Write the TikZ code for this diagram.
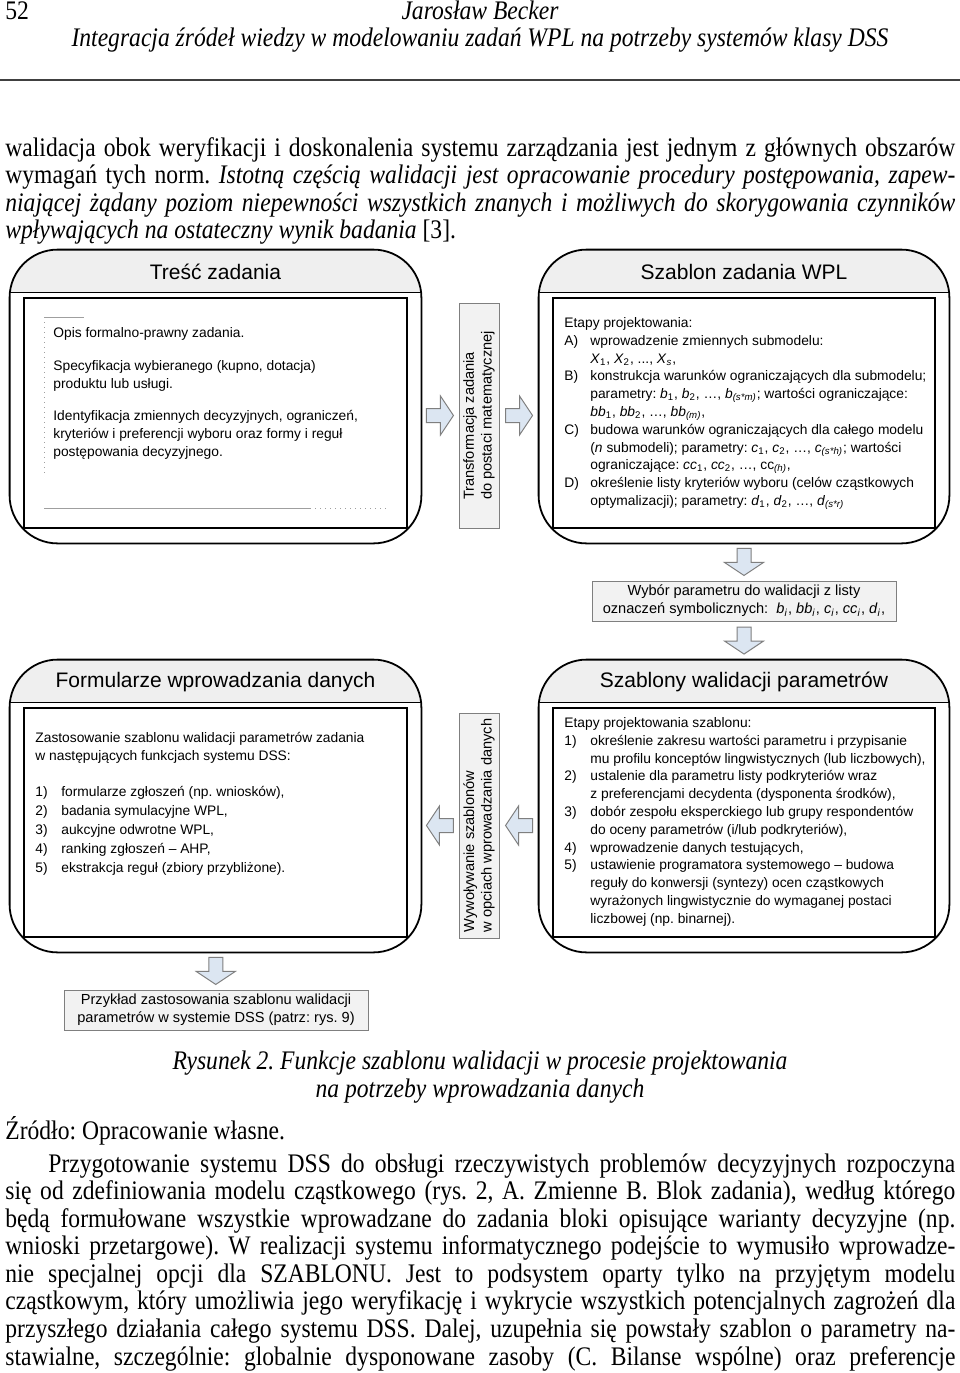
\documentclass[tikz,border=0pt]{standalone}
\usepackage{fontspec}
\setmainfont{Liberation Serif}[FakeStretch=0.88]
\setsansfont{Liberation Sans}
\usetikzlibrary{calc}
\frenchspacing

\definecolor{bandgray}{HTML}{EFEFEF}
\definecolor{boxgray}{HTML}{F2F2F2}
\definecolor{boxline}{HTML}{7F7F7F}
\definecolor{arrowblue}{HTML}{DCE6F2}

\newcommand{\parsym}[2]{\textit{#1}\textsubscript{#2}}
\newcommand{\itm}[1]{\makebox[13pt][l]{#1}}
\newcommand{\cnt}{\hspace*{13pt}}
\newcommand{\fullline}[1]{\makebox[475pt][s]{#1}}

\begin{document}
\begin{tikzpicture}[x=0.5pt,y=-0.5pt,
  panel/.style={minimum width=205.5pt,minimum height=146.5pt,inner sep=0pt},
  paneltitle/.style={font=\sffamily\fontsize{10.5}{12}\selectfont,inner sep=0pt},
  panelbody/.style={font=\sffamily\fontsize{6.9}{8.9}\selectfont,align=left,anchor=north west,inner sep=0pt},
  sidebox/.style={draw=boxline,fill=boxgray,line width=0.5pt,rotate=90,minimum width=112.5pt,
    minimum height=20pt,align=left,inner sep=0pt,font=\sffamily\fontsize{7.3}{8.8}\selectfont},
  notebox/.style={draw=boxline,fill=boxgray,line width=0.5pt,minimum width=152pt,minimum height=20pt,
    align=center,inner sep=0pt,font=\sffamily\fontsize{7.3}{9}\selectfont},
  bodyline/.style={anchor=base west,inner sep=0pt,font=\fontsize{13.4}{13.8}\selectfont},
  decor/.style={gray!75,line width=0.5pt},
  blockarrow/.pic={\draw[fill=arrowblue,draw=boxline,line width=0.5pt]
    (-13.5,-7) -- (0.5,-7) -- (0.5,-19.5) -- (13.5,0) -- (0.5,19.5) -- (0.5,7) -- (-13.5,7) -- cycle;}]
\fill[white] (0,0) rectangle (960,1373);
\useasboundingbox (0,0) rectangle (960,1373);

% page head
\node[bodyline] (nr) at (5,19.5) {52};
\node[bodyline,anchor=base] (autor) at (480,19.5) {\itshape Jarosław Becker};
\node[bodyline,anchor=base] (tytul) at (480,46) {\itshape Integracja źródeł wiedzy w modelowaniu zadań WPL na potrzeby systemów klasy DSS};
\draw[black!75,line width=0.6pt] (0,80) -- (960,80);

% text above the figure
\foreach \txt [count=\i] in {
  {\fullline{walidacja obok weryfikacji i doskonalenia systemu zarządzania jest jednym z głównych obszarów}},
  {\fullline{wymagań tych norm. \itshape Istotną częścią walidacji jest opracowanie procedury postępowania, zapew-}},
  {\fullline{\itshape niającej żądany poziom niepewności wszystkich znanych i możliwych do skorygowania czynników}},
  {{\itshape wpływających na ostateczny wynik badania} [3].}}
  \node[bodyline] (wstep\i) at (5,156+27.6*\i-27.6) {\txt};

% panels
\node[panel] (tresc) at (215.5,396.5) {};
\node[panel,minimum width=205pt] (szablon) at (744,396.5) {};
\node[panel,minimum height=146pt] (formularze) at (215.5,806) {};
\node[panel,minimum width=205pt,minimum height=146pt] (szablony) at (744,806) {};
\foreach \p in {tresc,szablon,formularze,szablony}{
  \begin{scope}
    \clip[rounded corners=24pt] (\p.south west) rectangle (\p.north east);
    \fill[bandgray] (\p.north west) rectangle ([yshift=-21.5pt]\p.north east);
  \end{scope}
  \draw[line width=0.7pt] ([yshift=-21.5pt]\p.north west) -- ([yshift=-21.5pt]\p.north east);
  \draw[line width=1pt] ([xshift=7pt,yshift=-24pt]\p.north west) rectangle ([xshift=-7pt,yshift=7.5pt]\p.south east);
  \draw[line width=0.9pt,rounded corners=24pt] (\p.south west) rectangle (\p.north east);
}

\node[paneltitle] (trescT) at (215.5,272) {Treść zadania};
\node[paneltitle] (szablonT) at (744,272) {Szablon zadania WPL};
\node[paneltitle] (formularzeT) at (215.5,682) {Formularze wprowadzania danych};
\node[paneltitle] (szablonyT) at (744,682) {Szablony walidacji parametrów};

\draw[decor,dotted] (44,317) -- (44,475);
\draw[decor] (44,317) -- (84,317);
\draw[decor] (44,508) -- (310,508);
\draw[decor,dotted] (310,508) -- (387,508);

\node[panelbody] (trescB) at (53,327) {Opis formalno-prawny zadania.\\[7.5pt]
  Specyfikacja wybieranego (kupno, dotacja)\\produktu lub usługi.\\[7.5pt]
  Identyfikacja zmiennych decyzyjnych, ograniczeń,\\kryteriów i preferencji wyboru oraz formy i reguł\\
  postępowania decyzyjnego.};

\node[panelbody] (szablonB) at (564,317) {Etapy projektowania:\\
  \itm{A)}wprowadzenie zmiennych submodelu:\\
  \cnt\parsym{X}{1}, \parsym{X}{2}, ..., \parsym{X}{\textit{s}},\\
  \itm{B)}konstrukcja warunków ograniczających dla submodelu;\\
  \cnt parametry: \parsym{b}{1}, \parsym{b}{2}, …, \parsym{b}{\textit{(s*m)}}; wartości ograniczające:\\
  \cnt\parsym{bb}{1}, \parsym{bb}{2}, …, \parsym{bb}{\textit{(m)}},\\
  \itm{C)}budowa warunków ograniczających dla całego modelu\\
  \cnt(\textit{n} submodeli); parametry: \parsym{c}{1}, \parsym{c}{2}, …, \parsym{c}{\textit{(s*h)}}; wartości\\
  \cnt ograniczające: \parsym{cc}{1}, \parsym{cc}{2}, …, cc\textsubscript{\textit{(h)}},\\
  \itm{D)}określenie listy kryteriów wyboru (celów cząstkowych\\
  \cnt optymalizacji); parametry: \parsym{d}{1}, \parsym{d}{2}, …, \parsym{d}{\textit{(s*r)}}};

\node[panelbody] (formularzeB) at (35,732) {Zastosowanie szablonu walidacji parametrów zadania\\
  w następujących funkcjach systemu DSS:\\[9pt]
  \itm{1)}formularze zgłoszeń (np. wniosków),\\[0.6pt]
  \itm{2)}badania symulacyjne WPL,\\[0.6pt]
  \itm{3)}aukcyjne odwrotne WPL,\\[0.6pt]
  \itm{4)}ranking zgłoszeń – AHP,\\[0.6pt]
  \itm{5)}ekstrakcja reguł (zbiory przybliżone).};

\node[panelbody] (szablonyB) at (564,717) {Etapy projektowania szablonu:\\
  \itm{1)}określenie zakresu wartości parametru i przypisanie\\
  \cnt mu profilu konceptów lingwistycznych (lub liczbowych),\\
  \itm{2)}ustalenie dla parametru listy podkryteriów wraz\\
  \cnt z preferencjami decydenta (dysponenta środków),\\
  \itm{3)}dobór zespołu eksperckiego lub grupy respondentów\\
  \cnt do oceny parametrów (i/lub podkryteriów),\\
  \itm{4)}wprowadzenie danych testujących,\\
  \itm{5)}ustawienie programatora systemowego – budowa\\
  \cnt reguły do konwersji (syntezy) ocen cząstkowych\\
  \cnt wyrażonych lingwistycznie do wymaganej postaci\\
  \cnt liczbowej (np. binarnej).};

% side boxes and notes
\node[sidebox] (transf) at (479,415.5) {Transformacja zadania\\do postaci matematycznej};
\node[sidebox] (wywol) at (479,825.5) {Wywoływanie szablonów\\w opciach wprowadzania danych};
\node[notebox] (wybor) at (744,601) {Wybór parametru do walidacji z listy\\
  oznaczeń symbolicznych:~ \parsym{b}{\textit{i}}, \parsym{bb}{\textit{i}}, \parsym{c}{\textit{i}}, \parsym{cc}{\textit{i}}, \parsym{d}{\textit{i}},};
\node[notebox] (przyklad) at (216,1010) {Przykład zastosowania szablonu walidacji\\parametrów w systemie DSS (patrz: rys. 9)};

% block arrows
\pic at ($(tresc.east |- transf.center)!0.5!(transf.north)$) {blockarrow};
\pic at ($(transf.south)!0.5!(szablon.west |- transf.center)$) {blockarrow};
\pic[rotate=-90] at ($(szablon.south)!0.5!(wybor.north)$) {blockarrow};
\pic[rotate=-90] at ($(wybor.south)!0.5!(szablony.north)$) {blockarrow};
\pic[rotate=180] at ($(formularze.east |- wywol.center)!0.5!(wywol.north)$) {blockarrow};
\pic[rotate=180] at ($(wywol.south)!0.5!(szablony.west |- wywol.center)$) {blockarrow};
\pic[rotate=-90] at ($(formularze.south)!0.5!(przyklad.north)$) {blockarrow};

% caption, source and text below
\node[bodyline,anchor=base] (podpis1) at (480,1069) {\itshape Rysunek 2. Funkcje szablonu walidacji w procesie projektowania};
\node[bodyline,anchor=base] (podpis2) at (480,1097) {\itshape na potrzeby wprowadzania danych};
\node[bodyline] (zrodlo) at (5,1139) {Źródło: Opracowanie własne.};

\foreach \txt [count=\i] in {
  {\fullline{\hspace*{21.5pt}Przygotowanie systemu DSS do obsługi rzeczywistych problemów decyzyjnych rozpoczyna}},
  {\fullline{się od zdefiniowania modelu cząstkowego (rys. 2, A. Zmienne B. Blok zadania), według którego}},
  {\fullline{będą formułowane wszystkie wprowadzane do zadania bloki opisujące warianty decyzyjne (np.}},
  {\fullline{wnioski przetargowe). W realizacji systemu informatycznego podejście to wymusiło wprowadze-}},
  {\fullline{nie specjalnej opcji dla SZABLONU. Jest to podsystem oparty tylko na przyjętym modelu}},
  {\fullline{cząstkowym, który umożliwia jego weryfikację i wykrycie wszystkich potencjalnych zagrożeń dla}},
  {\fullline{przyszłego działania całego systemu DSS. Dalej, uzupełnia się powstały szablon o parametry na-}},
  {\fullline{stawialne, szczególnie: globalnie dysponowane zasoby (C. Bilanse wspólne) oraz preferencje}}}
  \node[bodyline] (tekst\i) at (5,1172+27.57*\i-27.57) {\txt};
\end{tikzpicture}
\end{document}
